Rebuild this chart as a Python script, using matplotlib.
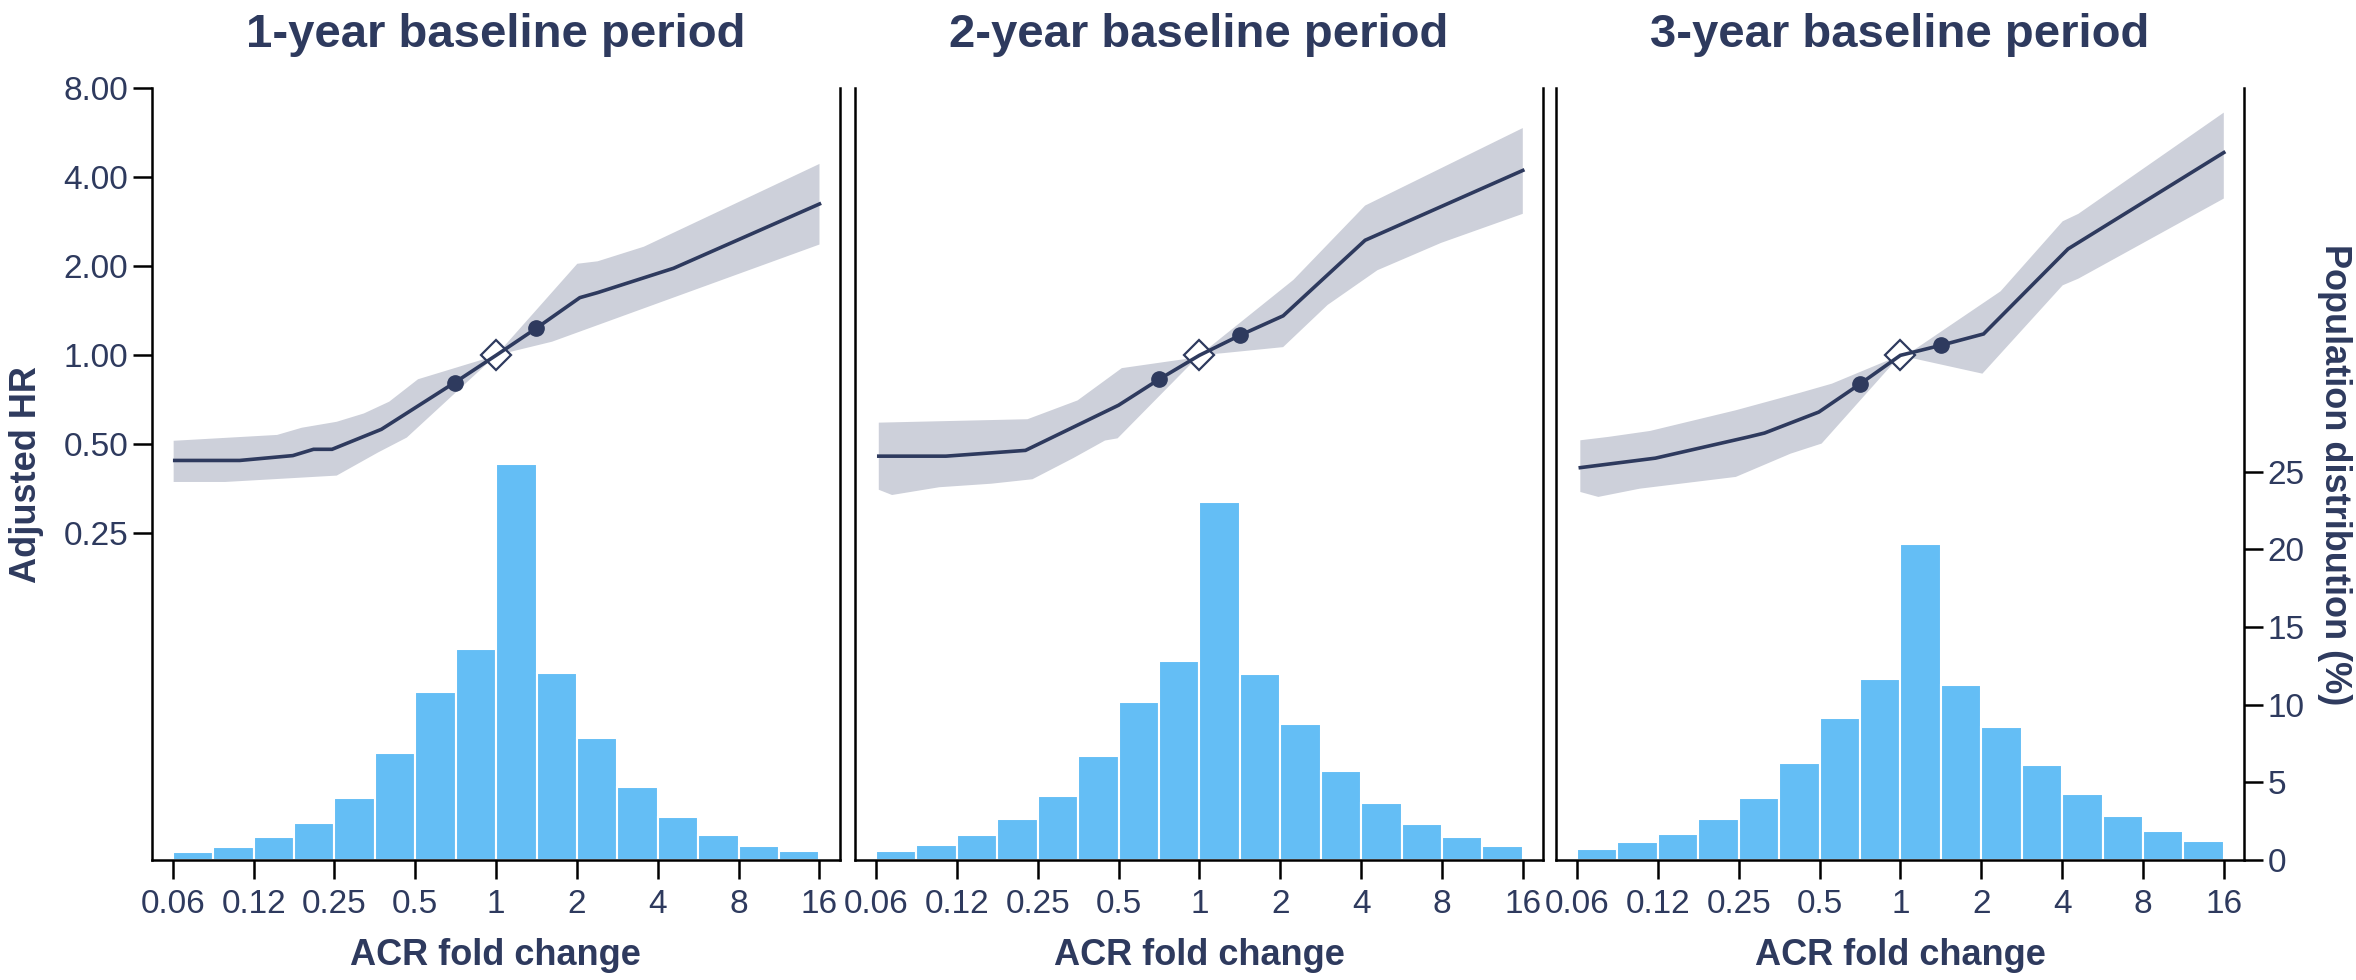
import numpy as np
import matplotlib
matplotlib.use("Agg")
import matplotlib.pyplot as plt
from matplotlib.ticker import FixedLocator, NullLocator, FixedFormatter

plt.rcParams['font.family'] = ['Liberation Sans', 'DejaVu Sans']

NAVY = '#2E3A5E'
BAND = '#CDD0DA'
BAR = '#64BEF5'

titles = ['1-year baseline period', '2-year baseline period', '3-year baseline period']

x_ticks = [0.0625, 0.125, 0.25, 0.5, 1, 2, 4, 8, 16]
x_tick_labels = ['0.06', '0.12', '0.25', '0.5', '1', '2', '4', '8', '16']
hr_ticks = [0.25, 0.5, 1, 2, 4, 8]
hr_tick_labels = ['0.25', '0.50', '1.00', '2.00', '4.00', '8.00']
pop_ticks = [0, 5, 10, 15, 20, 25]
pop_tick_labels = ['0', '5', '10', '15', '20', '25']

# histogram bins (ACR fold change), half-doubling wide
bin_edges = [0.0625, 0.0884, 0.125, 0.1768, 0.25, 0.3536, 0.5, 0.7071, 1.0,
             1.4142, 2.0, 2.8284, 4.0, 5.6569, 8.0, 11.3137, 16.0]

# population distribution (%)
pop_1y = [0.53, 0.84, 1.47, 2.38, 3.99, 6.88, 10.82, 13.61, 25.48, 12.04, 7.86, 4.69, 2.74, 1.63, 0.89, 0.60]
pop_2y = [0.55, 0.99, 1.61, 2.64, 4.13, 6.73, 10.17, 12.84, 23.05, 12.00, 8.75, 5.70, 3.65, 2.31, 1.51, 0.89]
pop_3y = [0.72, 1.15, 1.68, 2.67, 3.99, 6.27, 9.16, 11.63, 20.34, 11.25, 8.58, 6.13, 4.23, 2.86, 1.88, 1.25]

# adjusted HR curves
hr_x_1y = [0.0636, 0.111, 0.175, 0.209, 0.245, 0.374, 0.70, 1.0, 1.41, 2.05, 2.39, 4.58, 16.0]
hr_1y = [0.441, 0.441, 0.458, 0.481, 0.481, 0.562, 0.808, 1.0, 1.234, 1.567, 1.63, 1.97, 3.25]
hr_x_2y = [0.064, 0.1138, 0.2251, 0.50, 0.71, 1.0, 1.42, 2.05, 4.14, 16.0]
hr_2y = [0.456, 0.456, 0.477, 0.678, 0.831, 1.0, 1.17, 1.36, 2.45, 4.22]
hr_x_3y = [0.0643, 0.1224, 0.2727, 0.312, 0.497, 0.71, 1.0, 1.06, 1.414, 2.04, 4.21, 16.0]
hr_3y = [0.417, 0.449, 0.530, 0.546, 0.643, 0.802, 1.0, 1.013, 1.081, 1.181, 2.29, 4.85]

# 95% CI upper / lower bounds
ci_up_x_1y = [0.063, 0.153, 0.189, 0.255, 0.322, 0.400, 0.512, 0.896, 1.0, 2.006, 2.39, 3.55, 16.0]
ci_up_1y = [0.514, 0.538, 0.569, 0.596, 0.636, 0.697, 0.83, 0.969, 1.0, 2.04, 2.08, 2.33, 4.44]
ci_lo_x_1y = [0.063, 0.098, 0.255, 0.363, 0.465, 1.0, 1.616, 16.0]
ci_lo_1y = [0.373, 0.373, 0.392, 0.469, 0.527, 1.0, 1.112, 2.37]

ci_up_x_2y = [0.064, 0.229, 0.352, 0.514, 0.932, 1.0, 2.24, 4.14, 16.0]
ci_up_2y = [0.592, 0.608, 0.704, 0.905, 0.978, 1.0, 1.80, 3.21, 5.87]
ci_lo_x_2y = [0.064, 0.0717, 0.1075, 0.168, 0.239, 0.339, 0.445, 0.496, 1.0, 1.225, 2.05, 3.0, 4.6, 7.94, 16.0]
ci_lo_2y = [0.351, 0.337, 0.358, 0.368, 0.381, 0.449, 0.515, 0.524, 1.0, 1.017, 1.066, 1.48, 1.94, 2.40, 3.01]

ci_up_x_3y = [0.0643, 0.082, 0.117, 0.244, 0.425, 0.556, 0.868, 1.0, 1.133, 2.36, 4.02, 4.6, 16.0]
ci_up_3y = [0.516, 0.530, 0.555, 0.652, 0.748, 0.802, 0.949, 1.0, 1.048, 1.646, 2.84, 3.01, 6.62]
ci_lo_x_3y = [0.0643, 0.075, 0.107, 0.244, 0.39, 0.509, 1.0, 1.13, 2.02, 4.02, 4.6, 8.57, 16.0]
ci_lo_3y = [0.345, 0.332, 0.354, 0.388, 0.465, 0.503, 1.0, 0.974, 0.867, 1.725, 1.817, 2.48, 3.39]

# highlighted points (filled dots) and reference (diamond)
dot_x_1y, dot_1y = [0.70, 1.41], [0.808, 1.234]
dot_x_2y, dot_2y = [0.71, 1.42], [0.831, 1.17]
dot_x_3y, dot_3y = [0.71, 1.414], [0.802, 1.081]
ref_x, ref_hr = 1.0, 1.0

panels = [
    (titles[0], pop_1y, hr_x_1y, hr_1y, ci_up_x_1y, ci_up_1y, ci_lo_x_1y, ci_lo_1y, dot_x_1y, dot_1y),
    (titles[1], pop_2y, hr_x_2y, hr_2y, ci_up_x_2y, ci_up_2y, ci_lo_x_2y, ci_lo_2y, dot_x_2y, dot_2y),
    (titles[2], pop_3y, hr_x_3y, hr_3y, ci_up_x_3y, ci_up_3y, ci_lo_x_3y, ci_lo_3y, dot_x_3y, dot_3y),
]

W, H = 2356, 980
fig = plt.figure(figsize=(W / 100, H / 100), dpi=100)
lefts = [151.7, 855.0, 1556.0]
ax_w, ax_bottom, ax_top = 688.0, 860.0, 88.3

edges = np.array(bin_edges)
for i, (title, pop, hx, hy, ux, uy, lx, ly, dx, dy) in enumerate(panels):
    ax = fig.add_axes([lefts[i] / W, (H - ax_bottom) / H, ax_w / W, (ax_bottom - ax_top) / H])
    ax2 = ax.twinx()
    ax.set_zorder(ax2.get_zorder() + 1)
    ax.patch.set_visible(False)

    ax.set_xscale('log', base=2)
    ax.set_yscale('log', base=2)
    ax.set_xlim(2 ** -4.26, 2 ** 4.25)
    ax.set_ylim(2 ** -5.67, 8)
    ax2.set_ylim(0, 49.7)

    # histogram
    ax2.bar(edges[:-1], pop, width=np.diff(edges), align='edge', color=BAR,
            edgecolor='white', linewidth=1.5)

    # CI band
    poly_x = list(ux) + list(lx)[::-1]
    poly_y = list(uy) + list(ly)[::-1]
    ax.fill(poly_x, poly_y, color=BAND, linewidth=0, zorder=1)
    # HR line
    ax.plot(hx, hy, color=NAVY, linewidth=2.6, zorder=4, solid_joinstyle='miter')
    ax.plot(ref_x, ref_hr, marker='D', markersize=15.5, markerfacecolor='white',
            markeredgecolor=NAVY, markeredgewidth=1.6, linestyle='none', zorder=3)
    ax.plot(dx, dy, marker='o', markersize=11, color=NAVY, linestyle='none', zorder=5)

    # axes styling
    for s in ['left', 'right', 'bottom']:
        ax.spines[s].set_color('black')
        ax.spines[s].set_linewidth(1.8)
    ax.spines['top'].set_visible(False)
    for s in ax2.spines.values():
        s.set_visible(False)

    ax.xaxis.set_major_locator(FixedLocator(x_ticks))
    ax.xaxis.set_major_formatter(FixedFormatter(x_tick_labels))
    ax.xaxis.set_minor_locator(NullLocator())
    ax.yaxis.set_major_locator(FixedLocator(hr_ticks))
    ax.yaxis.set_major_formatter(FixedFormatter(hr_tick_labels))
    ax.yaxis.set_minor_locator(NullLocator())
    ax.tick_params(axis='both', which='major', direction='out', length=14, width=1.8,
                   color='black', labelcolor=NAVY, labelsize=24)
    ax.tick_params(axis='x', pad=7)
    ax.tick_params(axis='y', pad=3)

    ax2.yaxis.set_major_locator(FixedLocator(pop_ticks))
    ax2.yaxis.set_major_formatter(FixedFormatter(pop_tick_labels))
    ax2.yaxis.set_minor_locator(NullLocator())
    ax2.tick_params(axis='y', direction='out', length=14, width=1.8, color='black',
                    labelcolor=NAVY, labelsize=24, pad=3)

    if i == 0:
        ax.set_ylabel('Adjusted HR', fontsize=26, fontweight='bold', color=NAVY, labelpad=14)
    else:
        ax.tick_params(axis='y', left=False, labelleft=False)
    if i < 2:
        ax2.tick_params(axis='y', right=False, labelright=False)
    else:
        ax2.set_ylabel('Population distribution (%)', fontsize=26, fontweight='bold',
                       color=NAVY, rotation=270, va='bottom', labelpad=9)

    ax.set_xlabel('ACR fold change', fontsize=26, fontweight='bold', color=NAVY, labelpad=13)
    cx = (lefts[i] + ax_w / 2) / W
    fig.text(cx, 1 - 35 / H, title, ha='center', va='center', fontsize=34,
             fontweight='bold', color=NAVY)

fig.savefig('out.png', dpi=100)
